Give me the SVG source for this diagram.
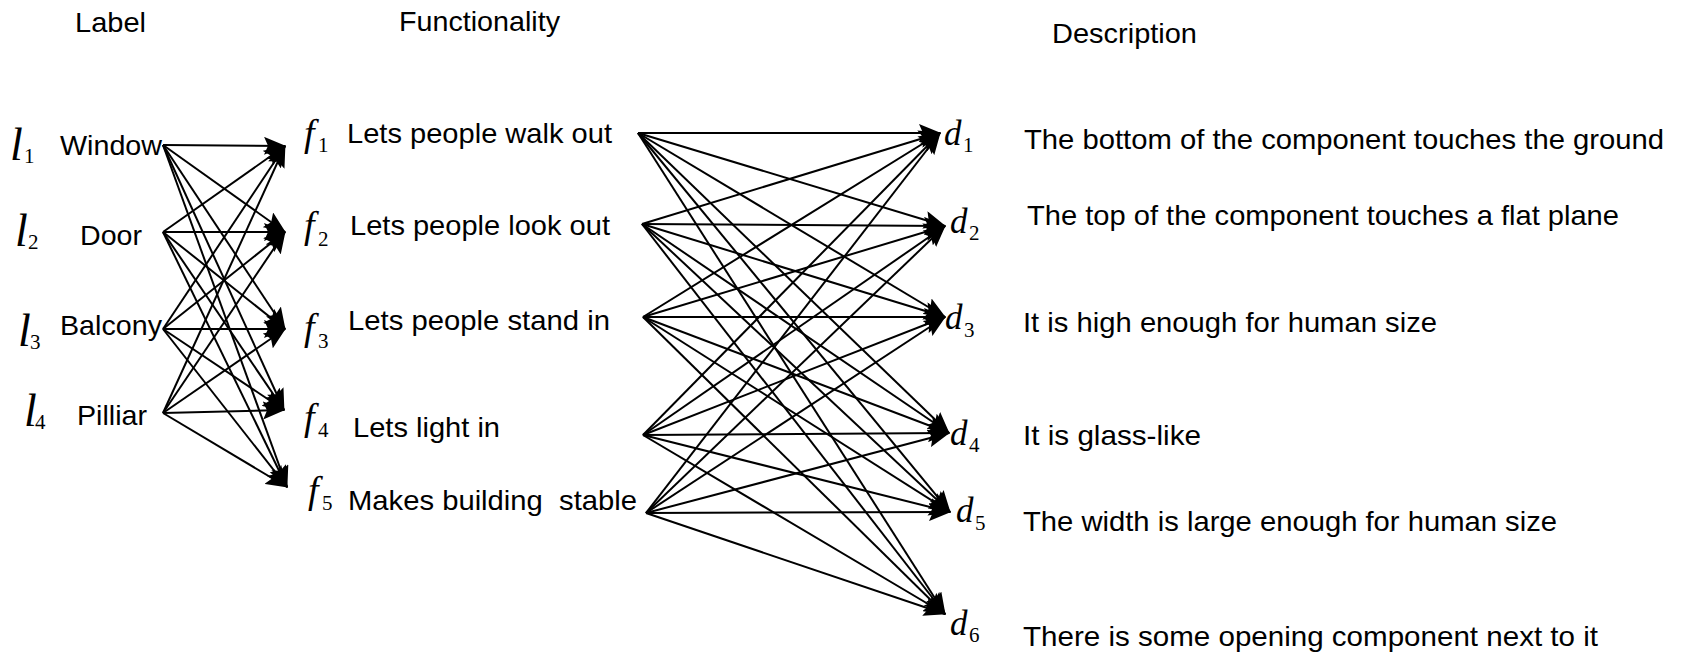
<svg xmlns="http://www.w3.org/2000/svg" width="1683" height="656" viewBox="0 0 1683 656">
<style>
.t{font-family:"Liberation Sans",Arial,sans-serif;font-size:28px;fill:#000}
.m{font-family:"Liberation Serif","Times New Roman",serif;font-style:italic;fill:#000}
.s{font-family:"Liberation Serif","Times New Roman",serif;font-size:21px;fill:#000}
.ml{font-size:46px}
.mf{font-size:38px}
.md{font-size:35px}
#connectors line{stroke:#000;stroke-width:2;marker-end:url(#ah)}
</style>
<defs>
<marker id="ah" markerUnits="userSpaceOnUse" markerWidth="22" markerHeight="18" refX="21" refY="9" orient="auto">
<path d="M0,0 L22,9 L0,18 L4,9 z" fill="#000"/>
</marker>
</defs>
<rect width="1683" height="656" fill="#fff"/>
<g id="headers">
<text class="t" x="75" y="32" textLength="71" lengthAdjust="spacingAndGlyphs">Label</text>
<text class="t" x="399" y="31" textLength="161" lengthAdjust="spacingAndGlyphs">Functionality</text>
<text class="t" x="1052" y="43" textLength="145" lengthAdjust="spacingAndGlyphs">Description</text>
</g>
<g id="l1"><text class="m ml" x="10" y="160">l</text><text class="s" x="24" y="163">1</text><text class="t" x="60" y="155" textLength="102" lengthAdjust="spacingAndGlyphs">Window</text></g>
<g id="l2"><text class="m ml" x="15" y="246">l</text><text class="s" x="28" y="249">2</text><text class="t" x="80" y="245" textLength="62" lengthAdjust="spacingAndGlyphs">Door</text></g>
<g id="l3"><text class="m ml" x="18" y="346">l</text><text class="s" x="30" y="349">3</text><text class="t" x="60" y="335" textLength="102" lengthAdjust="spacingAndGlyphs">Balcony</text></g>
<g id="l4"><text class="m ml" x="24" y="426">l</text><text class="s" x="35" y="429">4</text><text class="t" x="77" y="425" textLength="70" lengthAdjust="spacingAndGlyphs">Pilliar</text></g>
<g id="f1"><text class="m mf" x="304" y="146">f</text><text class="s" x="318" y="152">1</text><text class="t" x="347" y="143" textLength="265" lengthAdjust="spacingAndGlyphs">Lets people walk out</text></g>
<g id="f2"><text class="m mf" x="304" y="238">f</text><text class="s" x="318" y="246">2</text><text class="t" x="350" y="235" textLength="260" lengthAdjust="spacingAndGlyphs">Lets people look out</text></g>
<g id="f3"><text class="m mf" x="304" y="340">f</text><text class="s" x="318" y="348">3</text><text class="t" x="348" y="330" textLength="262" lengthAdjust="spacingAndGlyphs">Lets people stand in</text></g>
<g id="f4"><text class="m mf" x="304" y="430">f</text><text class="s" x="318" y="437">4</text><text class="t" x="353" y="437" textLength="147" lengthAdjust="spacingAndGlyphs">Lets light in</text></g>
<g id="f5"><text class="m mf" x="308" y="503">f</text><text class="s" x="322" y="510">5</text><text class="t" x="348" y="510" textLength="289" lengthAdjust="spacingAndGlyphs" style="white-space:pre">Makes building  stable</text></g>
<g id="d1"><text class="m md" x="944" y="145">d</text><text class="s" x="963" y="152">1</text><text class="t" x="1024" y="149" textLength="640" lengthAdjust="spacingAndGlyphs">The bottom of the component touches the ground</text></g>
<g id="d2"><text class="m md" x="950" y="233">d</text><text class="s" x="969" y="240">2</text><text class="t" x="1027" y="225" textLength="592" lengthAdjust="spacingAndGlyphs">The top of the component touches a flat plane</text></g>
<g id="d3"><text class="m md" x="945" y="329">d</text><text class="s" x="964" y="337">3</text><text class="t" x="1023" y="332" textLength="414" lengthAdjust="spacingAndGlyphs">It is high enough for human size</text></g>
<g id="d4"><text class="m md" x="950" y="445">d</text><text class="s" x="969" y="452">4</text><text class="t" x="1023" y="445" textLength="178" lengthAdjust="spacingAndGlyphs">It is glass-like</text></g>
<g id="d5"><text class="m md" x="956" y="522">d</text><text class="s" x="975" y="530">5</text><text class="t" x="1023" y="531" textLength="534" lengthAdjust="spacingAndGlyphs">The width is large enough for human size</text></g>
<g id="d6"><text class="m md" x="950" y="635">d</text><text class="s" x="969" y="642">6</text><text class="t" x="1023" y="646" textLength="575" lengthAdjust="spacingAndGlyphs">There is some opening component next to it</text></g>
<g id="connectors">
<line x1="163" y1="145" x2="285" y2="146"/>
<line x1="163" y1="145" x2="285" y2="232"/>
<line x1="163" y1="145" x2="285" y2="329"/>
<line x1="163" y1="145" x2="284" y2="410"/>
<line x1="163" y1="145" x2="287" y2="487"/>
<line x1="163" y1="232" x2="285" y2="146"/>
<line x1="163" y1="232" x2="285" y2="232"/>
<line x1="163" y1="232" x2="285" y2="329"/>
<line x1="163" y1="232" x2="284" y2="410"/>
<line x1="163" y1="232" x2="287" y2="487"/>
<line x1="163" y1="329" x2="285" y2="146"/>
<line x1="163" y1="329" x2="285" y2="232"/>
<line x1="163" y1="329" x2="285" y2="329"/>
<line x1="163" y1="329" x2="284" y2="410"/>
<line x1="163" y1="329" x2="287" y2="487"/>
<line x1="163" y1="413" x2="285" y2="146"/>
<line x1="163" y1="413" x2="285" y2="232"/>
<line x1="163" y1="413" x2="285" y2="329"/>
<line x1="163" y1="413" x2="284" y2="410"/>
<line x1="163" y1="413" x2="287" y2="487"/>
<line x1="638" y1="133" x2="940" y2="133"/>
<line x1="638" y1="133" x2="945" y2="226"/>
<line x1="638" y1="133" x2="945" y2="317"/>
<line x1="638" y1="133" x2="949" y2="433"/>
<line x1="638" y1="133" x2="950" y2="512"/>
<line x1="638" y1="133" x2="945" y2="614"/>
<line x1="642" y1="224" x2="940" y2="133"/>
<line x1="642" y1="224" x2="945" y2="226"/>
<line x1="642" y1="224" x2="945" y2="317"/>
<line x1="642" y1="224" x2="949" y2="433"/>
<line x1="642" y1="224" x2="950" y2="512"/>
<line x1="642" y1="224" x2="945" y2="614"/>
<line x1="643" y1="317" x2="940" y2="133"/>
<line x1="643" y1="317" x2="945" y2="226"/>
<line x1="643" y1="317" x2="945" y2="317"/>
<line x1="643" y1="317" x2="949" y2="433"/>
<line x1="643" y1="317" x2="950" y2="512"/>
<line x1="643" y1="317" x2="945" y2="614"/>
<line x1="643" y1="435" x2="940" y2="133"/>
<line x1="643" y1="435" x2="945" y2="226"/>
<line x1="643" y1="435" x2="945" y2="317"/>
<line x1="643" y1="435" x2="949" y2="433"/>
<line x1="643" y1="435" x2="950" y2="512"/>
<line x1="643" y1="435" x2="945" y2="614"/>
<line x1="646" y1="513" x2="940" y2="133"/>
<line x1="646" y1="513" x2="945" y2="226"/>
<line x1="646" y1="513" x2="945" y2="317"/>
<line x1="646" y1="513" x2="949" y2="433"/>
<line x1="646" y1="513" x2="950" y2="512"/>
<line x1="646" y1="513" x2="945" y2="614"/>
</g>
</svg>
